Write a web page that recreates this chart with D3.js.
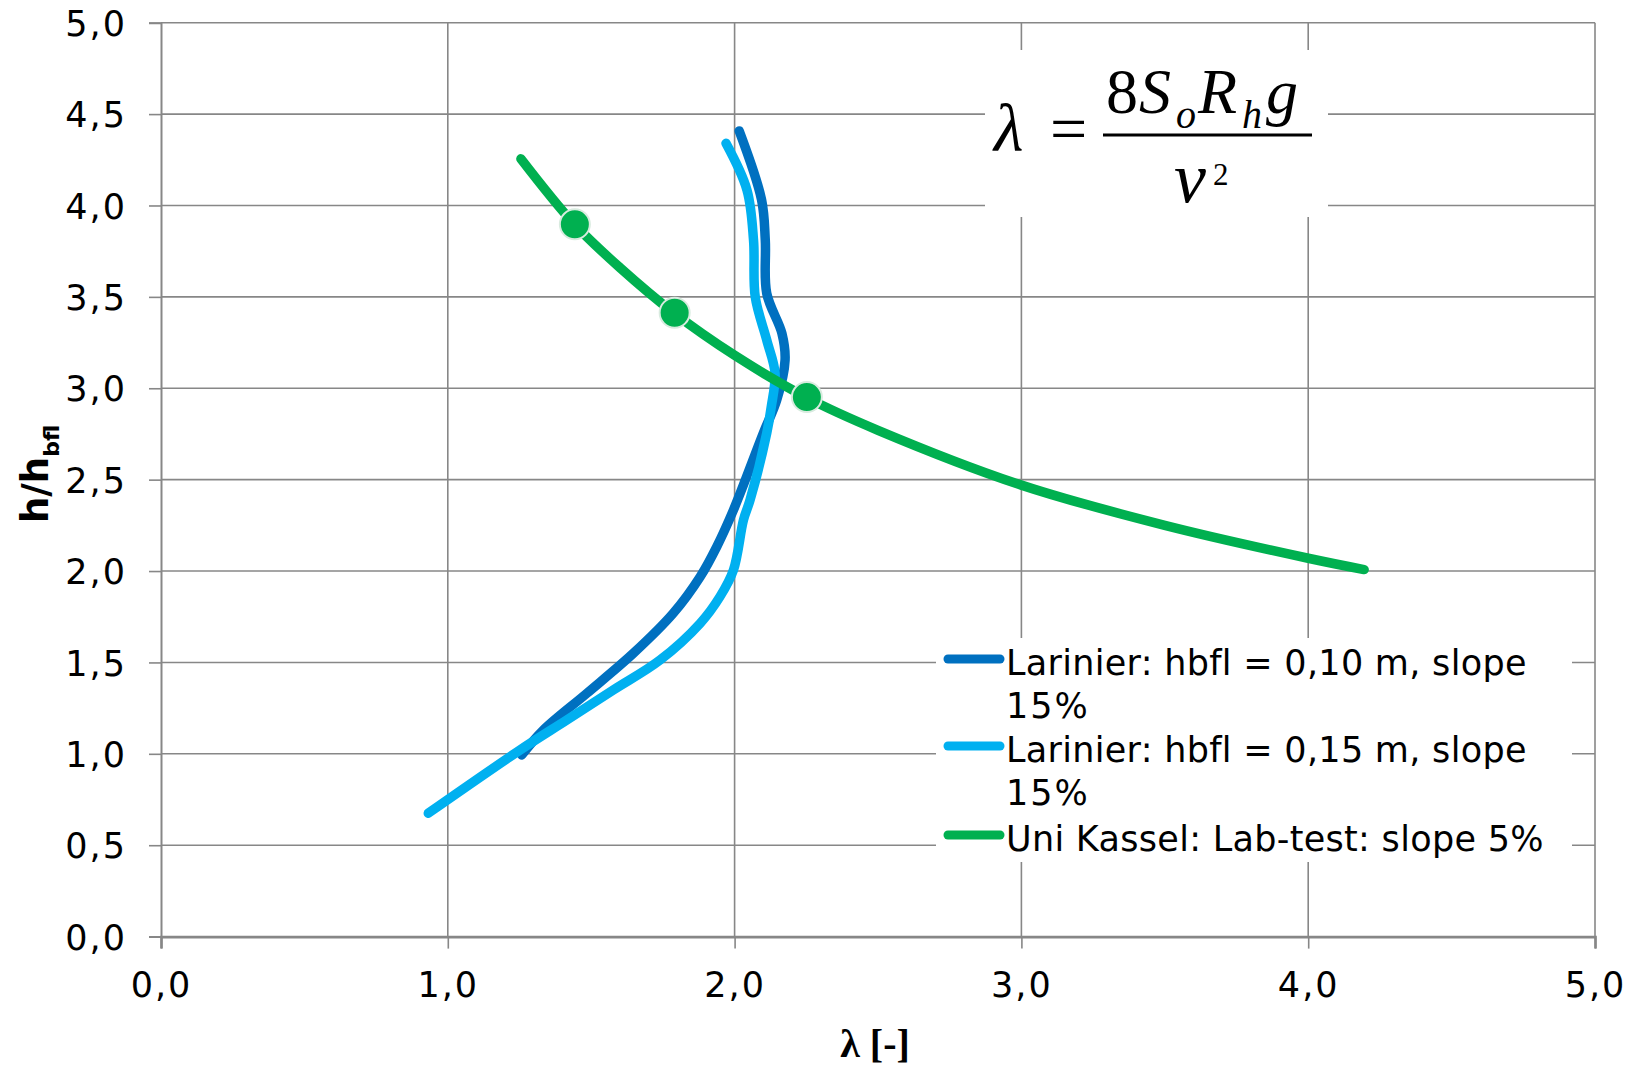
<!DOCTYPE html>
<html>
<head>
<meta charset="utf-8">
<script src="https://cdn.jsdelivr.net/npm/d3@7"></script>
<style>
  body { margin: 0; background: #fff; }
  .tick text { font-family: "DejaVu Sans", sans-serif; font-size: 35px; fill: #000; letter-spacing: 2px; }
</style>
</head>
<body>
<div id="chart"></div>
<script>
// ticks
var xTicks = [0, 1, 2, 3, 4, 5];
var yTicks = [0, 0.5, 1, 1.5, 2, 2.5, 3, 3.5, 4, 4.5, 5];

// Larinier: hbfl = 0,10 m, slope 15%
var darkLambda = [2.016, 2.094, 2.107, 2.112, 2.165, 2.176, 2.147, 2.10, 1.996, 1.938, 1.880, 1.786, 1.647, 1.484, 1.333, 1.258];
var darkH      = [4.408, 4.031, 3.81, 3.52, 3.30, 3.155, 2.936, 2.754, 2.334, 2.134, 1.969, 1.769, 1.55, 1.33, 1.13, 0.994];

// Larinier: hbfl = 0,15 m, slope 15%
var lightLambda = [1.970, 2.043, 2.066, 2.072, 2.112, 2.141, 2.128, 2.112, 2.054, 2.031, 1.996, 1.949, 1.880, 1.74, 1.577, 1.415, 1.252, 0.932];
var lightH      = [4.34, 4.085, 3.81, 3.50, 3.264, 3.082, 2.90, 2.754, 2.389, 2.28, 2.006, 1.86, 1.714, 1.513, 1.349, 1.185, 1.021, 0.675];

// Uni Kassel: Lab-test: slope 5% (trend line + measured points)
var greenLambda = [1.255, 1.44, 1.6, 1.79, 2.0, 2.25, 2.5, 3.0, 3.5, 4.0, 4.195];
var greenH      = [4.255, 3.90, 3.66, 3.41, 3.18, 2.95, 2.77, 2.47, 2.25, 2.07, 2.008];
var pointLambda = [1.443, 1.791, 2.252];
var pointH      = [3.897, 3.413, 2.952];

var seriesNames = ["Larinier: hbfl = 0,10 m, slope", "Larinier: hbfl = 0,15 m, slope", "Uni Kassel: Lab-test: slope 5%"];
var seriesWrap = ["15%", "15%", null];
var seriesColors = ["#0070C0", "#00B0F0", "#00B050"];

var W = 1630, H = 1066;
var svg = d3.select("#chart").append("svg")
    .attr("width", W)
    .attr("height", H);

var x = d3.scaleLinear().domain([0, 5]).range([161, 1595]);
var y = d3.scaleLinear().domain([0, 5]).range([936.6, 22.7]);
var fmt = function(d) { return d3.format(".1f")(d).replace(".", ","); };
var gridColor = "#878787";

// grid lines
svg.append("g").selectAll("line").data(yTicks.slice(1)).enter().append("line")
    .attr("x1", x(0)).attr("x2", x(5))
    .attr("y1", d => y(d)).attr("y2", d => y(d))
    .attr("stroke", gridColor).attr("stroke-width", 1.6);
svg.append("g").selectAll("line").data(xTicks.slice(1)).enter().append("line")
    .attr("x1", d => x(d)).attr("x2", d => x(d))
    .attr("y1", y(0)).attr("y2", y(5))
    .attr("stroke", gridColor).attr("stroke-width", 1.6);

// white boxes under formula and legend
svg.append("rect").attr("x", 985).attr("y", 50).attr("width", 343).attr("height", 167).attr("fill", "#fff");
svg.append("rect").attr("x", 936).attr("y", 638).attr("width", 636).attr("height", 224).attr("fill", "#fff");

// axes
var xAxis = svg.append("g")
    .attr("transform", "translate(0," + y(0) + ")")
    .call(d3.axisBottom(x).tickValues(xTicks).tickFormat(fmt).tickSize(12).tickPadding(24));
var yAxis = svg.append("g")
    .attr("transform", "translate(" + x(0) + ",0)")
    .call(d3.axisLeft(y).tickValues(yTicks).tickFormat(fmt).tickSize(12).tickPadding(22));
xAxis.select(".domain").attr("stroke", gridColor).attr("stroke-width", 2.6);
yAxis.select(".domain").attr("stroke", gridColor).attr("stroke-width", 2);
svg.selectAll(".tick line").attr("stroke", gridColor).attr("stroke-width", 1.6);
yAxis.selectAll(".tick text").attr("dy", "0.36em");

// curves
function drawCurve(lams, hs, color) {
  var pts = lams.map(function(l, i) { return [l, hs[i]]; });
  svg.append("path")
      .datum(pts)
      .attr("fill", "none")
      .attr("stroke", color)
      .attr("stroke-width", 9.5)
      .attr("stroke-linecap", "round")
      .attr("stroke-linejoin", "round")
      .attr("d", d3.line()
          .x(function(d) { return x(d[0]); })
          .y(function(d) { return y(d[1]); })
          .curve(d3.curveCatmullRom.alpha(0.5)));
}
drawCurve(darkLambda, darkH, seriesColors[0]);
drawCurve(lightLambda, lightH, seriesColors[1]);
drawCurve(greenLambda, greenH, seriesColors[2]);

svg.append("g").selectAll("circle").data(pointLambda).enter().append("circle")
    .attr("cx", d => x(d))
    .attr("cy", (d, i) => y(pointH[i]))
    .attr("r", 15)
    .attr("fill", seriesColors[2])
    .attr("stroke", "#d8ebdf")
    .attr("stroke-width", 2);

// legend
var legendRowY = [659, 746, 835];
var legend = svg.append("g");
seriesNames.forEach(function(name, i) {
  var ly = legendRowY[i];
  legend.append("line")
      .attr("x1", 948).attr("x2", 1000)
      .attr("y1", ly).attr("y2", ly)
      .attr("stroke", seriesColors[i])
      .attr("stroke-width", 9)
      .attr("stroke-linecap", "round");
  legend.append("text")
      .attr("x", 1006).attr("y", ly + 16)
      .style("font-family", "DejaVu Sans, sans-serif")
      .style("font-size", "35px")
      .style("letter-spacing", "0.3px")
      .text(name);
  if (seriesWrap[i]) {
    legend.append("text")
        .attr("x", 1006).attr("y", ly + 59)
        .style("font-family", "DejaVu Sans, sans-serif")
        .style("font-size", "35px")
        .style("letter-spacing", "2px")
        .text(seriesWrap[i]);
  }
});

// formula  lambda = 8 S_o R_h g / v^2
var serif = "Liberation Serif, Times New Roman, serif";
var formula = [
  {t: "\u03bb", x: 994, y: 151, s: 68, it: true},
  {t: "=", x: 1050, y: 151, s: 66, it: false},
  {t: "8", x: 1106, y: 113, s: 64, it: false},
  {t: "S", x: 1139, y: 113, s: 64, it: true},
  {t: "o", x: 1176, y: 128, s: 40, it: true},
  {t: "R", x: 1198, y: 113, s: 64, it: true},
  {t: "h", x: 1242, y: 128, s: 40, it: true},
  {t: "g", x: 1266, y: 113, s: 64, it: true},
  {t: "v", x: 1174, y: 202, s: 72, it: true},
  {t: "2", x: 1213, y: 185, s: 31, it: false}
];
svg.append("g").selectAll("text").data(formula).enter().append("text")
    .attr("x", d => d.x).attr("y", d => d.y)
    .style("font-family", serif)
    .style("font-size", d => d.s + "px")
    .style("font-style", d => d.it ? "italic" : "normal")
    .text(d => d.t);
svg.append("line")
    .attr("x1", 1103).attr("x2", 1312)
    .attr("y1", 135).attr("y2", 135)
    .attr("stroke", "#000").attr("stroke-width", 3);

// axis titles
svg.append("text")
    .attr("x", (x(0) + x(5)) / 2 - 3).attr("y", 1057)
    .attr("text-anchor", "middle")
    .style("font-family", serif)
    .style("font-size", "40px")
    .style("font-weight", "bold")
    .text("\u03bb [-]");

var yTitle = svg.append("text")
    .attr("transform", "translate(48,523) rotate(-90)")
    .style("font-family", "DejaVu Sans, sans-serif")
    .style("font-weight", "bold");
yTitle.append("tspan").style("font-size", "37px").text("h/h");
yTitle.append("tspan").style("font-size", "22px").attr("dy", 11).text("bfl");
</script>
</body>
</html>
